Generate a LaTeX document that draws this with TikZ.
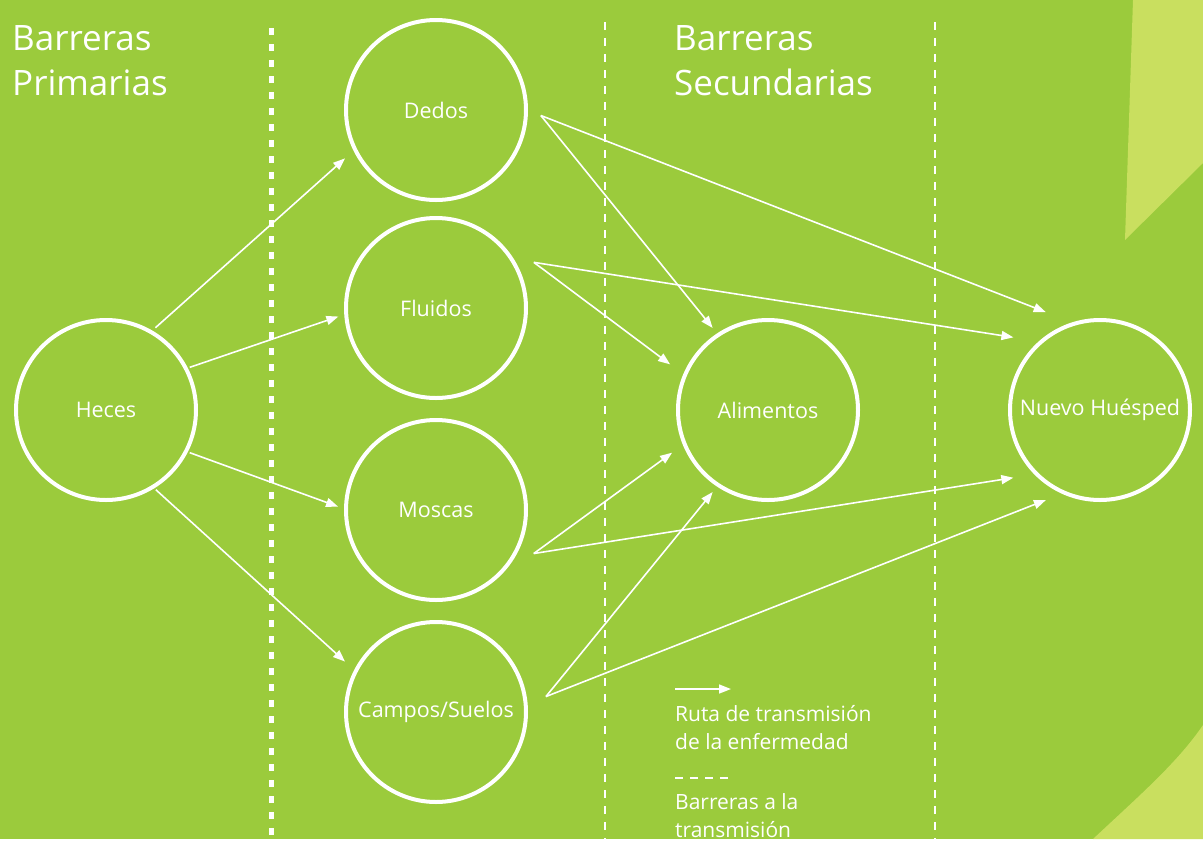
\documentclass[tikz,border=0pt]{standalone}
\usepackage{fontspec}
\setmainfont{Open Sans}
\usetikzlibrary{arrows.meta}
\definecolor{fondo}{RGB}{155,203,60}
\definecolor{claro}{RGB}{201,223,95}

\begin{document}
\begin{tikzpicture}[x=1pt,y=-1pt,
    circulo/.style={circle,draw=white,line width=4pt,minimum size=180pt,inner sep=0pt,outer sep=0pt,
        text=white,font=\fontsize{21.5}{26}\selectfont},
    ruta/.style={draw=white,line width=1.6pt,-{Triangle[length=12pt,width=9pt]}},
    titulo/.style={anchor=north west,inner sep=0pt,align=left,text=white,font=\fontsize{35}{45}\selectfont},
    leyenda/.style={anchor=north west,inner sep=0pt,align=left,text=white,font=\fontsize{21}{28}\selectfont}]
    % fondo
    \fill[fondo] (0,0) rectangle (1203,839);
    \fill[claro] (1133,0) -- (1203,0) -- (1203,163) -- (1125,240) -- cycle;
    \fill[claro] (1093,839) .. controls (1140,795) and (1178,762) .. (1203,725) -- (1203,839) -- cycle;
    % barreras
    \draw[white,line width=5pt,dash pattern=on 7pt off 9pt] (271,28) -- (271,839);
    \draw[white,line width=2.5pt,dash pattern=on 8pt off 8pt] (605,22) -- (605,839);
    \draw[white,line width=2.5pt,dash pattern=on 8pt off 8pt] (935,22) -- (935,839);
    % titulos
    \node[titulo] (primarias) at (12,25) {Barreras\\Primarias};
    \node[titulo] (secundarias) at (674,25) {Barreras\\Secundarias};
    % circulos
    \node[circulo] (heces) at (106,410) {Heces};
    \node[circulo] (dedos) at (436,110) {Dedos};
    \node[circulo] (fluidos) at (436,308) {Fluidos};
    \node[circulo] (moscas) at (436,510) {Moscas};
    \node[circulo] (campos) at (436,712) {Campos/Suelos};
    \node[circulo] (alimentos) at (768,410) {Alimentos};
    \node[circulo] (huesped) at (1100,410) {Nuevo Huésped};
    % rutas (angulos medidos hacia abajo)
    \draw[ruta] ([shift={(-59:96)}]heces.center) -- ([shift={(-208:103)}]dedos.center);
    \draw[ruta] ([shift={(-27:94)}]heces.center) -- ([shift={(-185:98)}]fluidos.center);
    \draw[ruta] ([shift={(27:94)}]heces.center) -- ([shift={(-178:98)}]moscas.center);
    \draw[ruta] ([shift={(58:94)}]heces.center) -- ([shift={(-151:104)}]campos.center);
    \draw[ruta] ([shift={(3:105)}]dedos.center) -- ([shift={(-124:99)}]alimentos.center);
    \draw[ruta] ([shift={(3:105)}]dedos.center) -- ([shift={(-119:112)}]huesped.center);
    \draw[ruta] ([shift={(-25:108)}]fluidos.center) -- ([shift={(-155:108)}]alimentos.center);
    \draw[ruta] ([shift={(-25:108)}]fluidos.center) -- ([shift={(-140:113)}]huesped.center);
    \draw[ruta] ([shift={(24:107)}]moscas.center) -- ([shift={(-204:105)}]alimentos.center);
    \draw[ruta] ([shift={(24:107)}]moscas.center) -- ([shift={(-218:110)}]huesped.center);
    \draw[ruta] ([shift={(-8:111)}]campos.center) -- ([shift={(-236:99)}]alimentos.center);
    \draw[ruta] ([shift={(-8:111)}]campos.center) -- ([shift={(-239:105)}]huesped.center);
    % leyenda
    \coordinate (flecha-a) at (675,689);
    \coordinate (flecha-b) at (731,689);
    \draw[ruta] (flecha-a) -- (flecha-b);
    \node[leyenda] (ruta-txt) at (675,705) {Ruta de transmisión\\de la enfermedad};
    \coordinate (raya-a) at (675,778);
    \coordinate (raya-b) at (729,778);
    \draw[white,line width=2pt,dash pattern=on 8pt off 7pt] (raya-a) -- (raya-b);
    \node[leyenda] (barrera-txt) at (675,793) {Barreras a la\\transmisión};
\end{tikzpicture}
\end{document}
